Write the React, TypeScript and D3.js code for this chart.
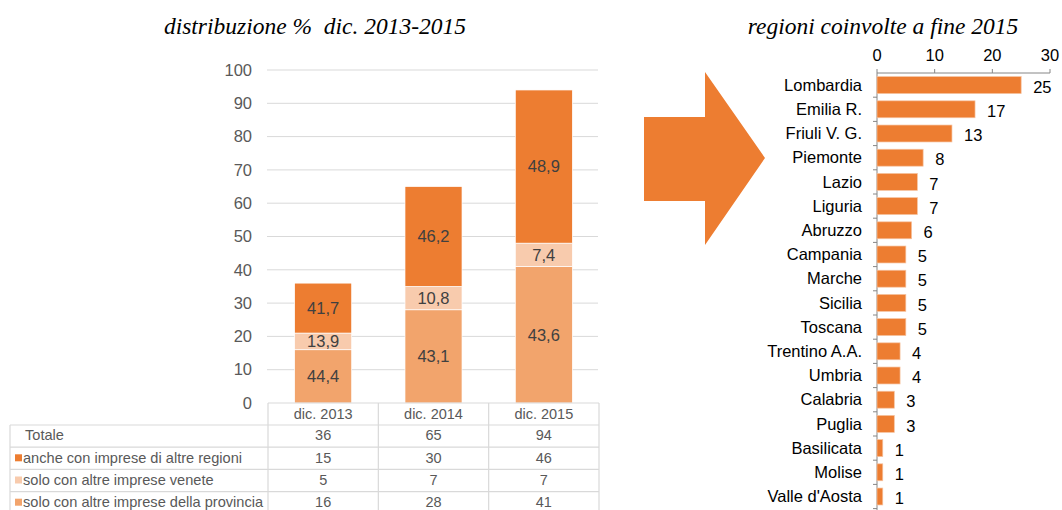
import React from "react";
import * as d3 from "d3";

const categories = ["dic. 2013", "dic. 2014", "dic. 2015"];
const totale = [36, 65, 94];
const altreRegioni = [15, 30, 46];
const venete = [5, 7, 7];
const provincia = [16, 28, 41];
const pctAltreRegioni = [41.7, 46.2, 48.9];
const pctVenete = [13.9, 10.8, 7.4];
const pctProvincia = [44.4, 43.1, 43.6];
const yTicks = [0, 10, 20, 30, 40, 50, 60, 70, 80, 90, 100];

const seriesNames = [
  "anche con imprese di altre regioni",
  "solo con altre imprese venete",
  "solo con altre imprese della provincia",
];

const regions = [
  "Lombardia", "Emilia R.", "Friuli V. G.", "Piemonte", "Lazio", "Liguria",
  "Abruzzo", "Campania", "Marche", "Sicilia", "Toscana", "Trentino A.A.",
  "Umbria", "Calabria", "Puglia", "Basilicata", "Molise", "Valle d'Aosta",
];
const regionValues = [25, 17, 13, 8, 7, 7, 6, 5, 5, 5, 5, 4, 4, 3, 3, 1, 1, 1];
const xTicks = [0, 10, 20, 30];

const C_DARK = "#ED7D31";
const C_LIGHT = "#F8CBAD";
const C_MID = "#F2A46C";
const GRID = "#D9D9D9";
const FONT = "'Liberation Sans', Arial, sans-serif";
const SERIF = "'Liberation Serif', 'Times New Roman', serif";

const fmt = (v: number) => v.toFixed(1).replace(".", ",");

export default function App() {
  const W = 1062, H = 510;
  // left chart
  const y = d3.scaleLinear().domain([0, 100]).range([403, 70]);
  const x = d3.scaleBand<string>().domain(categories).range([268, 599]).paddingInner(0.483).paddingOuter(0.2415);
  const step = x.step();

  const stacks = categories.map((c, i) => {
    const segs = [
      { key: "prov", v: provincia[i], pct: pctProvincia[i], color: C_MID },
      { key: "ven", v: venete[i], pct: pctVenete[i], color: C_LIGHT },
      { key: "altre", v: altreRegioni[i], pct: pctAltreRegioni[i], color: C_DARK },
    ];
    let acc = 0;
    return segs.map((s) => {
      const y0 = acc;
      acc += s.v;
      return { ...s, y0, y1: acc, cat: c };
    });
  });

  // table rows
  const rowTop = 425;
  const rowH = 22.2;
  const tableRows = [
    { label: "Totale", color: null as string | null, vals: totale },
    { label: seriesNames[0], color: C_DARK, vals: altreRegioni },
    { label: seriesNames[1], color: C_LIGHT, vals: venete },
    { label: seriesNames[2], color: C_MID, vals: provincia },
  ];

  // right chart
  const xr = d3.scaleLinear().domain([0, 30]).range([877, 1050]);
  const yr = d3.scaleBand<string>().domain(regions).range([73, 73 + 24.2 * regions.length]).paddingInner(0.3).paddingOuter(0.15);
  const rStep = yr.step();

  return (
    <svg width={W} height={H} style={{ position: "absolute", left: 0, top: 0, background: "#fff" }}>
      <rect x={0} y={0} width={W} height={H} fill="#fff" />
      {/* titles */}
      <text x={315} y={34} textAnchor="middle" fontFamily={SERIF} fontStyle="italic" fontSize={23.5} fill="#000" style={{ whiteSpace: "pre" }}>
        {"distribuzione %  dic. 2013-2015"}
      </text>
      <text x={883} y={34} textAnchor="middle" fontFamily={SERIF} fontStyle="italic" fontSize={23.5} fill="#000">
        regioni coinvolte a fine 2015
      </text>

      {/* gridlines */}
      {yTicks.map((t) => (
        <g key={t}>
          {t > 0 && <line x1={267} x2={598} y1={y(t)} y2={y(t)} stroke={GRID} strokeWidth={1} />}
          <text x={252} y={y(t)} dy="0.35em" textAnchor="end" fontFamily={FONT} fontSize={16.5} fill="#595959">
            {t}
          </text>
        </g>
      ))}

      {/* bars */}
      {stacks.map((segs) =>
        segs.map((s) => {
          const bx = x(s.cat)!;
          const top = y(s.y1);
          const bot = y(s.y0);
          return (
            <g key={s.cat + s.key}>
              <rect x={bx} y={top} width={x.bandwidth()} height={bot - top} fill={s.color} stroke="#fff" strokeWidth={0.7} />
              <text x={bx + x.bandwidth() / 2} y={(top + bot) / 2} dy="0.35em" textAnchor="middle" fontFamily={FONT} fontSize={16.5} fill="#404040">
                {fmt(s.pct)}
              </text>
            </g>
          );
        })
      )}

      {/* data table */}
      <g fill="none" stroke={GRID} strokeWidth={1.2}>
        <line x1={268} x2={599} y1={403} y2={403} />
        {[0, 1, 2, 3].map((k) => (
          <line key={k} x1={268 + k * step} x2={268 + k * step} y1={403} y2={H} />
        ))}
        <line x1={10} x2={10} y1={rowTop} y2={H} />
        {tableRows.map((_, r) => (
          <line key={r} x1={10} x2={599} y1={rowTop + r * rowH} y2={rowTop + r * rowH} />
        ))}
      </g>
      {categories.map((c) => (
        <text key={c} x={x(c)! + x.bandwidth() / 2} y={414} dy="0.35em" textAnchor="middle" fontFamily={FONT} fontSize={14.5} fill="#595959">
          {c}
        </text>
      ))}
      {tableRows.map((row, r) => {
        const cy = rowTop + r * rowH + rowH / 2 - 0.5;
        return (
          <g key={row.label}>
            {row.color && <rect x={15} y={cy - 3.5} width={7} height={7} fill={row.color} />}
            <text x={row.color ? 23 : 25} y={cy} dy="0.33em" fontFamily={FONT} fontSize={14.6} fill="#595959">
              {row.label}
            </text>
            {row.vals.map((v, i) => (
              <text key={i} x={x(categories[i])! + x.bandwidth() / 2} y={cy} dy="0.33em" textAnchor="middle" fontFamily={FONT} fontSize={14.5} fill="#595959">
                {v}
              </text>
            ))}
          </g>
        );
      })}

      {/* arrow */}
      <path d="M644,117 L705,117 L705,72 L765,158 L705,245 L705,201 L644,201 Z" fill={C_DARK} />

      {/* right chart axes */}
      <g stroke="#868686" strokeWidth={1}>
        <line x1={xr(0)} x2={xr(30)} y1={73} y2={73} />
        {xTicks.map((t) => (
          <line key={t} x1={xr(t)} x2={xr(t)} y1={69} y2={73} />
        ))}
        <line x1={877} x2={877} y1={73} y2={H} />
        {regions.map((r, i) => (
          <line key={r} x1={873} x2={877} y1={73 + (i + 1) * rStep} y2={73 + (i + 1) * rStep} />
        ))}
      </g>
      {xTicks.map((t) => (
        <text key={t} x={xr(t)} y={55} dy="0.35em" textAnchor="middle" fontFamily={FONT} fontSize={16.5} fill="#000">
          {t}
        </text>
      ))}
      {regions.map((r, i) => {
        const by = yr(r)!;
        const cy = by + yr.bandwidth() / 2;
        return (
          <g key={r}>
            <rect x={xr(0)} y={by} width={xr(regionValues[i]) - xr(0)} height={yr.bandwidth()} fill={C_DARK} stroke="#F6C3A0" strokeWidth={0.7} />
            <text x={862} y={cy} dy="0.35em" textAnchor="end" fontFamily={FONT} fontSize={16.5} fill="#000">
              {r}
            </text>
            <text x={xr(regionValues[i]) + 12} y={cy + 2} dy="0.35em" fontFamily={FONT} fontSize={16.5} fill="#000">
              {regionValues[i]}
            </text>
          </g>
        );
      })}
    </svg>
  );
}
